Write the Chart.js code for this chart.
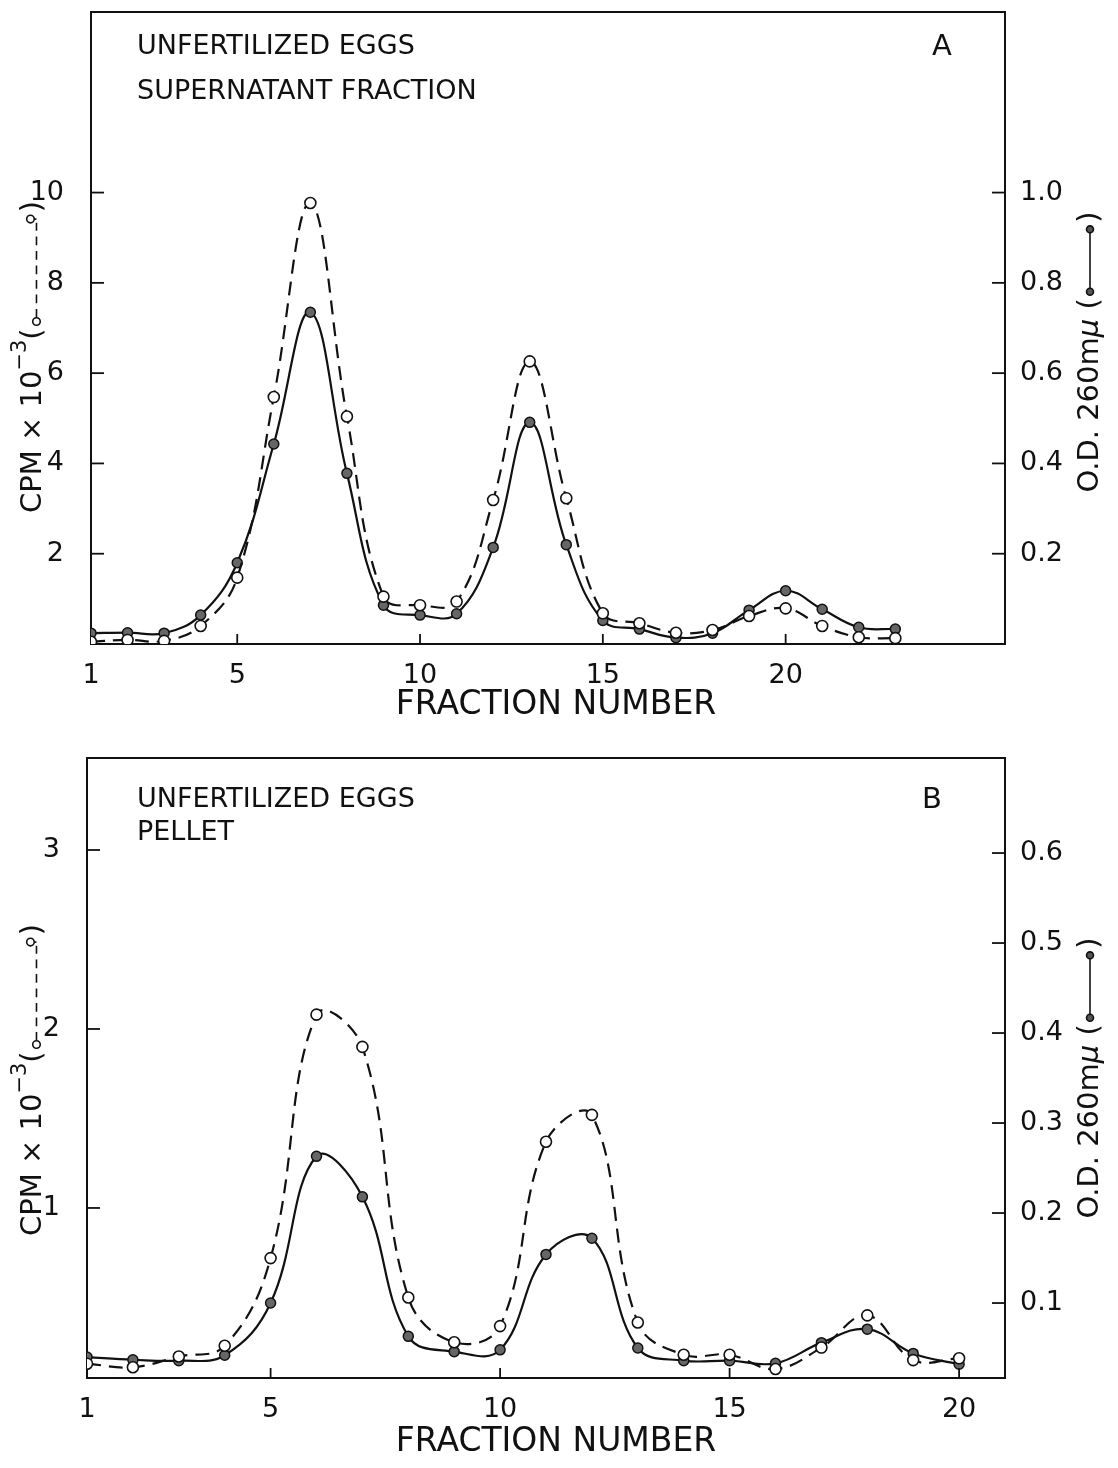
<!DOCTYPE html>
<html><head><meta charset="utf-8">
<script src="https://cdn.jsdelivr.net/npm/chart.js@4.4.1/dist/chart.umd.min.js"></script>
<style>
html,body{margin:0;padding:0;background:#fff;}
#wrap{position:relative;width:1118px;height:1468px;background:#fff;}
canvas{position:absolute;left:0;}
</style></head><body>
<div id="wrap">
<canvas id="cA" width="1118" height="730" style="top:0px"></canvas>
<canvas id="cB" width="1118" height="738" style="top:730px"></canvas>
</div>
<script>
// ---- Panel A data (supernatant fraction) ----
const fractionsA = [1,2,3,4,5,6,7,8,9,10,11,12,13,14,15,16,17,18,19,20,21,22,23];
const cpmA = [0.05,0.09,0.07,0.40,1.47,5.47,9.77,5.04,1.05,0.86,0.94,3.19,6.26,3.23,0.68,0.46,0.25,0.31,0.62,0.79,0.40,0.15,0.13];
const odA  = [0.024,0.025,0.024,0.064,0.180,0.443,0.735,0.378,0.086,0.064,0.067,0.214,0.491,0.220,0.052,0.033,0.014,0.024,0.075,0.118,0.077,0.037,0.033];
const xTicksA = [1,5,10,15,20];
const yLeftTicksA = [2,4,6,8,10];
const yRightTicksA = [0.2,0.4,0.6,0.8,1.0];

// ---- Panel B data (pellet) ----
const fractionsB = [1,2,3,4,5,6,7,8,9,10,11,12,13,14,15,16,17,18,19,20];
const cpmB = [0.13,0.11,0.17,0.23,0.72,2.08,1.90,0.50,0.25,0.34,1.37,1.52,0.36,0.18,0.18,0.10,0.22,0.40,0.15,0.16];
const odB  = [0.040,0.037,0.036,0.042,0.100,0.263,0.218,0.063,0.046,0.048,0.154,0.172,0.050,0.036,0.036,0.033,0.056,0.071,0.044,0.032];
const xTicksB = [1,5,10,15,20];
const yLeftTicksB = [1,2,3];
const yRightTicksB = [0.1,0.2,0.3,0.4,0.5,0.6];

const FONT = "'DejaVu Sans', sans-serif";
const INK = '#111';

function drawLeftTitle(ctx, cx, cy, size) {
  ctx.save();
  ctx.translate(cx, cy);
  ctx.rotate(-Math.PI/2);
  ctx.fillStyle = INK; ctx.strokeStyle = INK;
  ctx.textBaseline = 'middle'; ctx.textAlign = 'left';
  const main = 'CPM \u00d7 10';
  const sup = '\u22123';
  const fMain = size + 'px ' + FONT, fSup = Math.round(size*0.72) + 'px ' + FONT;
  ctx.font = fMain; const w1 = ctx.measureText(main).width; const wp = ctx.measureText('(').width;
  ctx.font = fSup; const w2 = ctx.measureText(sup).width;
  const wSym = size*4.0;
  const W = w1 + w2 + wp + wSym + wp;
  let x = -W/2;
  ctx.font = fMain; ctx.fillText(main, x, 0); x += w1;
  ctx.font = fSup; ctx.fillText(sup, x, -size*0.42); x += w2;
  ctx.font = fMain; ctx.fillText('(', x, 0); x += wp;
  // open-circle dashed symbol
  const y0 = size*0.12, r = size*0.13;
  const xa = x + r + 3, xb = x + wSym - r - 3;
  ctx.lineWidth = 1.6;
  ctx.setLineDash([size*0.3, size*0.2]);
  ctx.beginPath(); ctx.moveTo(xa + r, y0); ctx.lineTo(xb - r, y0); ctx.stroke();
  ctx.setLineDash([]);
  ctx.fillStyle = '#fff';
  ctx.beginPath(); ctx.arc(xa, y0, r, 0, Math.PI*2); ctx.fill(); ctx.stroke();
  ctx.beginPath(); ctx.arc(xb, y0 - r*1.6, r, 0, Math.PI*2); ctx.fill(); ctx.stroke();
  ctx.beginPath(); ctx.moveTo(xb, y0 - r*0.6); ctx.lineTo(xb, y0); ctx.stroke();
  ctx.fillStyle = INK;
  x += wSym;
  ctx.fillText(')', x, 0);
  ctx.restore();
}

function drawRightTitle(ctx, cx, cy, size) {
  ctx.save();
  ctx.translate(cx, cy);
  ctx.rotate(-Math.PI/2);
  ctx.fillStyle = INK; ctx.strokeStyle = INK;
  ctx.textBaseline = 'middle'; ctx.textAlign = 'left';
  const main = 'O.D. 260m';
  const mu = '\u03bc';
  const fMain = size + 'px ' + FONT, fMu = 'italic ' + size + 'px ' + FONT;
  ctx.font = fMain; const w1 = ctx.measureText(main).width; const wp = ctx.measureText('(').width; const ws = ctx.measureText(' ').width;
  ctx.font = fMu; const w2 = ctx.measureText(mu).width;
  const wSym = size*2.6;
  const W = w1 + w2 + ws + wp + wSym + wp;
  let x = -W/2;
  ctx.font = fMain; ctx.fillText(main, x, 0); x += w1;
  ctx.font = fMu; ctx.fillText(mu, x, 0); x += w2 + ws;
  ctx.font = fMain; ctx.fillText('(', x, 0); x += wp;
  const y0 = size*0.0, r = size*0.12;
  const xa = x + r + 3, xb = x + wSym - r - 3;
  ctx.lineWidth = 1.6;
  ctx.beginPath(); ctx.moveTo(xa, y0); ctx.lineTo(xb, y0); ctx.stroke();
  ctx.fillStyle = '#555';
  ctx.beginPath(); ctx.arc(xa, y0, r, 0, Math.PI*2); ctx.fill(); ctx.stroke();
  ctx.beginPath(); ctx.arc(xb, y0, r, 0, Math.PI*2); ctx.fill(); ctx.stroke();
  ctx.fillStyle = INK;
  x += wSym;
  ctx.fillText(')', x, 0);
  ctx.restore();
}

const framePlugin = {
  id: 'frame',
  afterDraw(chart, args, opts) {
    const ctx = chart.ctx; const a = chart.chartArea;
    ctx.save();
    ctx.strokeStyle = INK; ctx.lineWidth = 2;
    ctx.beginPath(); ctx.moveTo(a.left - 1, a.top); ctx.lineTo(a.right + 1, a.top); ctx.stroke();
    // inward tick marks
    const xs = chart.scales.x, yl = chart.scales.yL, yr = chart.scales.yR;
    ctx.lineWidth = 1.8;
    xs.ticks.forEach(t => {
      if (t.value <= xs.min) return;
      const px = xs.getPixelForValue(t.value);
      ctx.beginPath(); ctx.moveTo(px, a.bottom); ctx.lineTo(px, a.bottom - 10); ctx.stroke();
    });
    yl.ticks.forEach(t => {
      const py = yl.getPixelForValue(t.value);
      ctx.beginPath(); ctx.moveTo(a.left, py); ctx.lineTo(a.left + 13, py); ctx.stroke();
    });
    yr.ticks.forEach(t => {
      const py = yr.getPixelForValue(t.value);
      ctx.beginPath(); ctx.moveTo(a.right, py); ctx.lineTo(a.right - 13, py); ctx.stroke();
    });
    // texts
    const T = opts.texts;
    ctx.fillStyle = INK;
    ctx.textBaseline = 'middle';
    T.inner.forEach(s => {
      ctx.font = s.size + 'px ' + FONT;
      ctx.textAlign = s.align || 'left';
      ctx.fillText(s.text, s.x, s.y);
    });
    ctx.font = T.xTitle.size + 'px ' + FONT; ctx.textAlign = 'center';
    ctx.fillText(T.xTitle.text, T.xTitle.x, T.xTitle.y);
    drawLeftTitle(ctx, T.left.x, T.left.y, T.left.size);
    drawRightTitle(ctx, T.right.x, T.right.y, T.right.size);
    ctx.restore();
  }
};

function zeroPad(s) { s.paddingTop = 0; s.paddingBottom = 0; s.paddingLeft = 0; s.paddingRight = 0; }

function buildChart(id, c) {
  const tickFont = {family: FONT, size: 27};
  return new Chart(document.getElementById(id), {
    type: 'line',
    data: { datasets: [
      { label: 'CPM x 10^-3', data: c.fr.map((x,i)=>({x:x, y:c.cpm[i]})), yAxisID: 'yL',
        borderColor: INK, borderWidth: 2.2, borderDash: [14,8], tension: 0.4, fill: false,
        pointRadius: 5.5, pointBackgroundColor: '#fff', pointBorderColor: INK, pointBorderWidth: 1.6, order: 0 },
      { label: 'O.D. 260 m\u03bc', data: c.fr.map((x,i)=>({x:x, y:c.od[i]})), yAxisID: 'yR',
        borderColor: INK, borderWidth: 2.2, tension: 0.4, fill: false,
        pointRadius: 5, pointBackgroundColor: '#666', pointBorderColor: INK, pointBorderWidth: 1.5, order: 1 }
    ]},
    options: {
      responsive: false, animation: false, devicePixelRatio: 1,
      layout: { padding: { top: c.area.top, left: 0, right: 0, bottom: 0 } },
      plugins: { legend: {display: false}, tooltip: {enabled: false}, frame: { texts: c.texts } },
      scales: {
        x: { type: 'linear', position: 'bottom', min: c.xMin, max: c.xMax,
          grid: {display: false, drawTicks: false}, border: {display: true, color: INK, width: 2},
          ticks: {padding: 16, color: INK, font: tickFont, autoSkip: false, maxRotation: 0, callback: v => String(v)},
          afterBuildTicks: s => { s.ticks = c.xTicks.map(v => ({value: v})); },
          afterFit: s => { s.height = c.canvasH - c.area.bottom; zeroPad(s); } },
        yL: { type: 'linear', position: 'left', min: c.yLMin, max: c.yLMax,
          grid: {display: false, drawTicks: false}, border: {display: true, color: INK, width: 2},
          ticks: {padding: 27, color: INK, font: tickFont, autoSkip: false, callback: v => String(v)},
          afterBuildTicks: s => { s.ticks = c.yLTicks.map(v => ({value: v})); },
          afterFit: s => { s.width = c.area.left; zeroPad(s); } },
        yR: { type: 'linear', position: 'right', min: c.yRMin, max: c.yRMax,
          grid: {display: false, drawTicks: false}, border: {display: true, color: INK, width: 2},
          ticks: {padding: 15, color: INK, font: tickFont, autoSkip: false, callback: v => Number(v).toFixed(1)},
          afterBuildTicks: s => { s.ticks = c.yRTicks.map(v => ({value: v})); },
          afterFit: s => { s.width = 1118 - c.area.right; zeroPad(s); } }
      }
    },
    plugins: [framePlugin]
  });
}

buildChart('cA', {
  fr: fractionsA, cpm: cpmA, od: odA,
  xMin: 1, xMax: 26, yLMin: 0, yLMax: 14, yRMin: 0, yRMax: 1.4,
  xTicks: xTicksA, yLTicks: yLeftTicksA, yRTicks: yRightTicksA,
  area: {left: 91, right: 1005, top: 12, bottom: 644}, canvasH: 730,
  texts: {
    inner: [
      {text: 'UNFERTILIZED EGGS', x: 137, y: 47, size: 27},
      {text: 'SUPERNATANT FRACTION', x: 137, y: 92, size: 27},
      {text: 'A', x: 942, y: 47, size: 29, align: 'center'}
    ],
    xTitle: {text: 'FRACTION NUMBER', x: 556, y: 705, size: 33},
    left: {x: 33, y: 357, size: 29},
    right: {x: 1090, y: 352, size: 29}
  }
});

buildChart('cB', {
  fr: fractionsB, cpm: cpmB, od: odB,
  xMin: 1, xMax: 21, yLMin: 0.05, yLMax: 3.514, yRMin: 0.0167, yRMax: 0.7056,
  xTicks: xTicksB, yLTicks: yLeftTicksB, yRTicks: yRightTicksB,
  area: {left: 87, right: 1005, top: 28, bottom: 648}, canvasH: 738,
  texts: {
    inner: [
      {text: 'UNFERTILIZED EGGS', x: 137, y: 70, size: 27},
      {text: 'PELLET', x: 137, y: 103, size: 27},
      {text: 'B', x: 932, y: 70, size: 29, align: 'center'}
    ],
    xTitle: {text: 'FRACTION NUMBER', x: 556, y: 712, size: 33},
    left: {x: 33, y: 350, size: 29},
    right: {x: 1090, y: 348, size: 29}
  }
});
</script>
</body></html>
